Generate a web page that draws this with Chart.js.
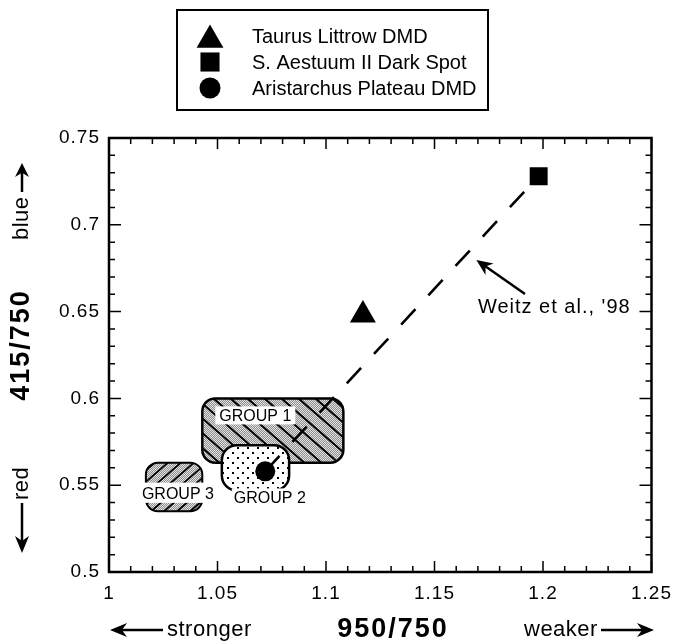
<!DOCTYPE html>
<html>
<head>
<meta charset="utf-8">
<script src="https://cdn.jsdelivr.net/npm/chart.js@4.4.1/dist/chart.umd.min.js"></script>
<style>
html, body { margin: 0; padding: 0; background: #fff; }
</style>
</head>
<body>
<canvas id="chart" width="680" height="644"></canvas>
<script>
// values
const seriesNames = ['Taurus Littrow DMD', 'S. Aestuum II Dark Spot', 'Aristarchus Plateau DMD'];
const seriesX = [1.117, 1.198, 1.072];
const seriesY = [0.648, 0.728, 0.558];

const weitzX = [1.072, 1.198];
const weitzY = [0.558, 0.728];

const groupNames = ['GROUP 1', 'GROUP 2', 'GROUP 3'];
const groupX0 = [1.043, 1.052, 1.017];
const groupX1 = [1.108, 1.083, 1.043];
const groupY0 = [0.563, 0.547, 0.535];
const groupY1 = [0.600, 0.573, 0.563];

const xTicks = [1, 1.05, 1.1, 1.15, 1.2, 1.25];
const yTicks = [0.5, 0.55, 0.6, 0.65, 0.7, 0.75];

const FONT = '"Liberation Sans", Arial, Helvetica, sans-serif';
Chart.defaults.font.family = FONT;
Chart.defaults.color = '#000';

const markerStyles = ['triangle', 'rect', 'circle'];
const markerSizes = [15, 12.7, 10];

function fmt(v) {
    return String(Math.round(v * 100) / 100);
}

function arrow(ctx, x1, y1, x2, y2, head, half) {
    const ang = Math.atan2(y2 - y1, x2 - x1);
    const c = Math.cos(ang), s = Math.sin(ang);
    ctx.beginPath();
    ctx.moveTo(x1, y1);
    ctx.lineTo(x2 - c * head * 0.6, y2 - s * head * 0.6);
    ctx.stroke();
    ctx.beginPath();
    ctx.moveTo(x2, y2);
    ctx.lineTo(x2 - c * head - s * half, y2 - s * head + c * half);
    ctx.lineTo(x2 - c * head * 0.7, y2 - s * head * 0.7);
    ctx.lineTo(x2 - c * head + s * half, y2 - s * head - c * half);
    ctx.closePath();
    ctx.fill();
}

function makeStipple() {
    const c = document.createElement('canvas');
    c.width = 2; c.height = 2;
    const g = c.getContext('2d');
    g.fillStyle = '#8e8e8e';
    g.fillRect(0, 0, 2, 2);
    g.fillStyle = '#e2e2e2';
    g.fillRect(0, 0, 1, 1);
    g.fillRect(1, 1, 1, 1);
    return c;
}

function makeDots() {
    const c = document.createElement('canvas');
    c.width = 10; c.height = 10;
    const g = c.getContext('2d');
    g.fillStyle = '#fff';
    g.fillRect(0, 0, 10, 10);
    g.fillStyle = '#000';
    g.fillRect(2, 2, 2, 2);
    g.fillRect(7, 7, 2, 2);
    return c;
}

function groupBox(chart, i) {
    const {x, y} = chart.scales;
    return {
        l: x.getPixelForValue(groupX0[i]),
        r: x.getPixelForValue(groupX1[i]),
        t: y.getPixelForValue(groupY1[i]),
        b: y.getPixelForValue(groupY0[i])
    };
}

function hatch(ctx, g, dir, gap) {
    const h = g.b - g.t;
    const k = 1.15;
    ctx.beginPath();
    for (let s = -h * k - gap; s < (g.r - g.l) + h * k + gap; s += gap) {
        ctx.moveTo(g.l + s, g.t);
        ctx.lineTo(g.l + s + dir * h * k, g.b);
    }
    ctx.stroke();
}

function label(ctx, text, cx, cy, pad) {
    ctx.font = '16px ' + FONT;
    const w = ctx.measureText(text).width;
    ctx.fillStyle = '#fff';
    ctx.fillRect(cx - w / 2 - pad, cy - 9, w + pad * 2, 18);
    ctx.fillStyle = '#000';
    ctx.textAlign = 'center';
    ctx.textBaseline = 'middle';
    ctx.fillText(text, cx, cy + 1);
}

const spacingPlugin = {
    id: 'spacing',
    beforeDraw(chart) {
        chart.ctx.letterSpacing = '1px';
    },
    afterDraw(chart) {
        chart.ctx.letterSpacing = '0px';
    }
};

const groupsPlugin = {
    id: 'groups',
    beforeDatasetsDraw(chart) {
        const ctx = chart.ctx;
        const stipple = ctx.createPattern(makeStipple(), 'repeat');
        const dots = ctx.createPattern(makeDots(), 'repeat');
        ctx.save();
        ctx.letterSpacing = '0px';
        ctx.strokeStyle = '#000';

        // group 3
        let g = groupBox(chart, 2);
        ctx.beginPath();
        ctx.roundRect(g.l, g.t, g.r - g.l, g.b - g.t, 12);
        ctx.fillStyle = stipple;
        ctx.fill();
        ctx.save();
        ctx.clip();
        ctx.lineWidth = 1.8;
        hatch(ctx, g, -1, 13);
        ctx.restore();
        ctx.lineWidth = 2;
        ctx.beginPath();
        ctx.roundRect(g.l, g.t, g.r - g.l, g.b - g.t, 12);
        ctx.stroke();
        ctx.fillStyle = '#fff';
        ctx.fillRect(g.l - 2, g.t + 20, g.r - g.l + 4, 20);
        label(ctx, groupNames[2], g.l + 32, g.t + 31, 1);

        // group 1
        g = groupBox(chart, 0);
        ctx.beginPath();
        ctx.roundRect(g.l, g.t, g.r - g.l, g.b - g.t, 13);
        ctx.fillStyle = stipple;
        ctx.fill();
        ctx.save();
        ctx.clip();
        ctx.lineWidth = 2;
        hatch(ctx, g, 1, 17);
        ctx.restore();
        ctx.lineWidth = 2.5;
        ctx.beginPath();
        ctx.roundRect(g.l, g.t, g.r - g.l, g.b - g.t, 13);
        ctx.stroke();
        label(ctx, groupNames[0], g.l + 53, g.t + 17, 4);

        // group 2
        g = groupBox(chart, 1);
        ctx.beginPath();
        ctx.roundRect(g.l, g.t, g.r - g.l, g.b - g.t, 15);
        ctx.fillStyle = dots;
        ctx.fill();
        ctx.lineWidth = 2.5;
        ctx.stroke();
        label(ctx, groupNames[1], g.l + 48, g.b + 7, 2);

        ctx.restore();
    },
    afterDatasetsDraw(chart) {
        const {ctx, scales: {x, y}} = chart;
        ctx.save();
        ctx.fillStyle = '#000';
        ctx.strokeStyle = '#000';
        ctx.lineWidth = 2.5;
        arrow(ctx, x.getPixelForValue(1.1917), y.getPixelForValue(0.6601),
              x.getPixelForValue(1.1693), y.getPixelForValue(0.6797), 16, 7);
        ctx.font = '20px ' + FONT;
        ctx.letterSpacing = '1px';
        ctx.textAlign = 'left';
        ctx.textBaseline = 'middle';
        ctx.fillText("Weitz et al., '98", x.getPixelForValue(1.170), y.getPixelForValue(0.6525));
        ctx.restore();
    }
};

const framePlugin = {
    id: 'frame',
    afterDraw(chart) {
        const {ctx, chartArea: a, scales: {x, y}} = chart;
        ctx.save();
        ctx.strokeStyle = '#000';
        ctx.fillStyle = '#000';

        // inward tick marks on all four sides
        ctx.lineWidth = 1.5;
        ctx.beginPath();
        const nx = Math.round((x.max - x.min) / 0.01);
        for (let k = 0; k <= nx; k++) {
            const px = x.getPixelForValue(x.min + k * 0.01);
            const len = k % 5 === 0 ? 11 : 6;
            ctx.moveTo(px, a.bottom); ctx.lineTo(px, a.bottom - len);
            ctx.moveTo(px, a.top); ctx.lineTo(px, a.top + len);
        }
        const ny = Math.round((y.max - y.min) / 0.01);
        for (let k = 0; k <= ny; k++) {
            const py = y.getPixelForValue(y.min + k * 0.01);
            const len = k % 5 === 0 ? 12 : 6;
            ctx.moveTo(a.left, py); ctx.lineTo(a.left + len, py);
            ctx.moveTo(a.right, py); ctx.lineTo(a.right - len, py);
        }
        ctx.stroke();
        ctx.lineWidth = 2.5;
        ctx.strokeRect(a.left, a.top, a.right - a.left, a.bottom - a.top);

        // x axis texts
        ctx.lineWidth = 2.5;
        ctx.textBaseline = 'middle';
        ctx.font = '22px ' + FONT;
        ctx.letterSpacing = '0.5px';
        ctx.textAlign = 'left';
        arrow(ctx, 163, 630, 110, 630, 17, 7);
        ctx.fillText('stronger', 167, 630);
        ctx.fillText('weaker', 524, 630);
        arrow(ctx, 601, 630, 654, 630, 17, 7);
        ctx.font = 'bold 27px ' + FONT;
        ctx.letterSpacing = '2px';
        ctx.textAlign = 'center';
        ctx.fillText('950/750', 393, 630);

        // y axis texts (rotated)
        ctx.save();
        ctx.translate(22, 0);
        ctx.rotate(-Math.PI / 2);
        ctx.fillText('415/750', -345, 0);
        ctx.letterSpacing = '0.5px';
        ctx.font = '22px ' + FONT;
        ctx.textAlign = 'left';
        ctx.fillText('blue', -240, 0);
        arrow(ctx, -192, 0, -163, 0, 14, 7);
        arrow(ctx, -503, 0, -553, 0, 17, 7);
        ctx.fillText('red', -500, 0);
        ctx.restore();

        // legend box
        ctx.letterSpacing = '0px';
        ctx.lineWidth = 2;
        ctx.strokeRect(177, 10, 311, 100);
        const rows = [36, 62, 88];
        const legendSizes = [15.5, 13.5, 10.5];
        ctx.font = '20px ' + FONT;
        ctx.textAlign = 'left';
        ctx.textBaseline = 'middle';
        for (let i = 0; i < seriesNames.length; i++) {
            const cy = rows[i] + (markerStyles[i] === 'triangle' ? legendSizes[i] / 4 : 0);
            Chart.helpers.drawPoint(ctx, {pointStyle: markerStyles[i], radius: legendSizes[i], rotation: 0, borderWidth: 0}, 210, cy);
            ctx.fillText(seriesNames[i], 252, rows[i] + 1);
        }
        ctx.restore();
    }
};

const ctx = document.getElementById('chart').getContext('2d');
const myChart = new Chart(ctx, {
    type: 'scatter',
    data: {
        datasets: [{
            type: 'line',
            label: 'Weitz et al., \'98',
            data: weitzX.map((v, i) => ({x: v, y: weitzY[i]})),
            borderColor: '#000',
            borderWidth: 2.6,
            borderDash: [21, 19],
            pointRadius: 0,
            fill: false,
            order: 2
        }].concat(seriesNames.map((name, i) => ({
            label: name,
            data: [{x: seriesX[i], y: seriesY[i]}],
            pointStyle: markerStyles[i],
            pointRadius: markerSizes[i],
            pointHoverRadius: markerSizes[i],
            backgroundColor: '#000',
            borderColor: '#000',
            borderWidth: 0,
            order: 1
        })))
    },
    options: {
        responsive: false,
        animation: false,
        devicePixelRatio: 1,
        layout: {
            padding: {top: 138, right: 26, left: 0, bottom: 0}
        },
        plugins: {
            legend: {display: false},
            tooltip: {enabled: false}
        },
        scales: {
            x: {
                type: 'linear',
                min: 1,
                max: 1.25,
                afterBuildTicks: s => { s.ticks = xTicks.map(v => ({value: v})); },
                afterFit: s => { s.height = 72; },
                grid: {display: false, drawTicks: false},
                border: {display: false},
                ticks: {
                    font: {size: 19},
                    color: '#000',
                    padding: 10,
                    maxRotation: 0,
                    autoSkip: false,
                    callback: v => fmt(v)
                }
            },
            y: {
                type: 'linear',
                min: 0.5,
                max: 0.75,
                afterBuildTicks: s => { s.ticks = yTicks.map(v => ({value: v})); },
                afterFit: s => { s.width = 109; },
                grid: {display: false, drawTicks: false},
                border: {display: false},
                ticks: {
                    font: {size: 19},
                    color: '#000',
                    padding: 9,
                    autoSkip: false,
                    callback: v => fmt(v)
                }
            }
        }
    },
    plugins: [spacingPlugin, groupsPlugin, framePlugin]
});
</script>
</body>
</html>
